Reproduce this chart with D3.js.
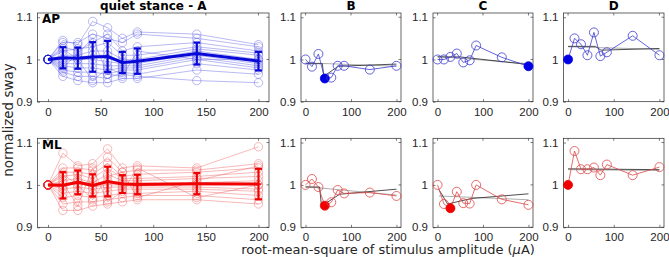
<!DOCTYPE html>
<html>
<head>
<meta charset="utf-8">
<script src="https://cdn.jsdelivr.net/npm/d3@7"></script>
<style>
  body { margin: 0; background: #fff; }
  svg { font-family: "DejaVu Sans", sans-serif; }
  .tick text { fill: #262626; font-size: 11.5px; }
  .ttl { font-weight: bold; font-size: 12px; fill: #000; }
  .lbl { font-size: 13px; fill: #262626; }
</style>
</head>
<body>
<svg id="chart" width="669" height="257"></svg>
<script>
// stimulus amplitudes (rms, uA)
var amps = [0, 14.1, 28.3, 42.4, 56.6, 70.7, 84.9, 141.4, 200];

// panel A, individual subjects (AP)
var apSubjects = [
  [1, 1.045, 1.035, 1.090, 1.075, 1.050, 1.065, 1.060, 1.035],
  [1, 1.040, 1.040, 1.060, 1.050, 1.040, 1.060, 1.050, 1.030],
  [1, 1.030, 1.020, 1.040, 1.060, 1.020, 1.030, 1.040, 1.020],
  [1, 1.020, 1.025, 1.030, 1.040, 1.010, 1.010, 1.030, 1.015],
  [1, 1.010, 1.010, 1.020, 1.020, 1.000, 1.000, 1.025, 1.010],
  [1, 1.000, 1.005, 1.010, 1.010, 0.995, 0.995, 1.020, 1.000],
  [1, 0.995, 1.000, 1.000, 0.995, 0.990, 0.990, 1.015, 0.995],
  [1, 0.990, 0.990, 0.990, 0.985, 0.985, 0.985, 1.010, 0.990],
  [1, 0.985, 0.980, 0.980, 0.975, 0.980, 0.980, 1.005, 0.985],
  [1, 0.975, 0.970, 0.970, 0.965, 0.975, 0.975, 1.000, 0.980],
  [1, 0.970, 0.960, 0.960, 0.955, 0.970, 0.965, 0.990, 0.975],
  [1, 0.960, 0.950, 0.945, 0.945, 0.955, 0.955, 0.975, 0.965],
  [1, 1.025, 1.000, 0.950, 0.980, 0.965, 0.960, 0.950, 0.945],
  [1, 0.980, 1.015, 1.050, 0.965, 0.960, 1.020, 1.000, 1.000]
];
var apMean = [1, 1.004, 1.003, 1.006, 1.007, 0.993, 0.996, 1.014, 0.996];
var apSd   = [0, 0.025, 0.025, 0.035, 0.037, 0.025, 0.030, 0.026, 0.022];

// panel A, individual subjects (ML)
var mlSubjects = [
  [1, 1.075, 1.045, 1.050, 1.085, 1.040, 1.045, 1.040, 1.090],
  [1, 1.040, 1.040, 1.035, 1.065, 1.030, 1.035, 1.035, 1.050],
  [1, 1.030, 1.030, 1.025, 1.050, 1.020, 1.025, 1.030, 1.040],
  [1, 1.020, 1.025, 1.015, 1.040, 1.015, 1.015, 1.020, 1.030],
  [1, 1.010, 1.015, 1.005, 1.025, 1.010, 1.010, 1.015, 1.020],
  [1, 1.000, 1.010, 1.000, 1.010, 1.005, 1.005, 1.005, 1.010],
  [1, 0.995, 1.005, 0.995, 1.000, 1.000, 1.000, 1.000, 1.000],
  [1, 0.990, 0.995, 0.990, 0.995, 0.995, 0.995, 0.995, 0.990],
  [1, 0.980, 0.985, 0.980, 0.985, 0.990, 0.990, 0.990, 0.985],
  [1, 0.970, 0.975, 0.970, 0.975, 0.980, 0.980, 0.985, 0.975],
  [1, 0.955, 0.960, 0.960, 0.965, 0.970, 0.975, 0.975, 0.965],
  [1, 0.940, 0.940, 0.950, 0.955, 0.960, 0.965, 0.965, 0.955],
  [1, 1.005, 0.950, 1.040, 0.960, 0.985, 1.040, 0.970, 1.000],
  [1, 1.025, 1.000, 0.965, 1.020, 1.030, 0.970, 1.010, 1.045]
];
var mlMean = [1, 0.999, 1.006, 0.999, 1.008, 1.002, 1.001, 1.003, 1.002];
var mlSd   = [0, 0.031, 0.028, 0.026, 0.035, 0.021, 0.023, 0.025, 0.036];

// example subjects B, C, D
var apB = [1.000, 0.983, 1.013, 0.955, 0.957, 0.985, 0.985, 0.976, 0.985];
var apC = [1.000, 1.000, 1.006, 1.014, 0.993, 0.998, 1.033, 1.005, 0.984];
var apD = [1.000, 1.050, 1.036, 1.010, 1.064, 1.008, 1.017, 1.056, 1.010];
var mlB = [1.000, 1.014, 0.995, 0.951, 0.959, 0.988, 0.980, 0.982, 0.974];
var mlC = [1.000, 0.955, 0.945, 0.984, 0.957, 0.956, 1.000, 0.966, 0.953];
var mlD = [1.000, 1.080, 1.037, 1.037, 1.041, 1.023, 1.048, 1.023, 1.042];
var bestB = 3, bestC = 8, bestD = 0;
var bestMlB = 3, bestMlC = 2, bestMlD = 0;

// fitted curves (black) and linear fits (gray): [amplitude, sway]
var fitApB = [[0, 0.990], [37, 0.990], [40, 0.960], [72, 0.984], [200, 0.989]];
var linApB = [[0, 0.992], [200, 0.984]];
var fitApC = [[0, 1.006], [50, 1.006], [200, 0.988]];
var linApC = [[0, 1.007], [200, 0.990]];
var fitApD = [[0, 1.031], [60, 1.031], [72, 1.022], [200, 1.026]];
var linApD = [[0, 1.030], [200, 1.024]];
var fitMlB = [[0, 0.995], [31, 0.995], [35, 0.950], [75, 0.978], [200, 0.990]];
var linMlB = [[0, 0.996], [200, 0.976]];
var fitMlC = [[3, 0.989], [22, 0.955], [75, 0.968], [200, 0.979]];
var linMlC = [[3, 0.974], [200, 0.965]];
var fitMlD = [[0, 1.038], [200, 1.036]];
var linMlD = [[0, 1.036], [200, 1.034]];

var yTicks = [0.9, 1, 1.1];
var aTicks = [0, 50, 100, 150, 200];
var exTicks = [0, 100, 200];
var titles = ["quiet stance - A", "B", "C", "D"];

var svg = d3.select("#chart");

var cols = [
  {left: 37.5, right: 269},
  {left: 301, right: 401},
  {left: 433, right: 533},
  {left: 563.5, right: 664}
];
var rows = [
  {top: 13, bottom: 101.7},
  {top: 138.3, bottom: 227.3}
];

var blue = {light: "rgba(95,95,230,0.55)", main: "#0a0ad8", ex: "#3c3cd0", fill: "#0000e6"};
var red  = {light: "rgba(240,95,95,0.55)", main: "#f00000", ex: "#e04848", fill: "#f00000"};

function makeAxes(c, r, ticks) {
  var x = d3.scaleLinear().domain([-10, 210]).range([c.left, c.right]);
  var y = d3.scaleLinear().domain([0.9, 1.11]).range([r.bottom, r.top]);
  var g = svg.append("g");
  var tl = 2.5;
  g.append("g")
    .attr("transform", `translate(0,${r.bottom})`)
    .call(d3.axisBottom(x).tickValues(ticks).tickSize(-tl).tickPadding(6).tickFormat(d3.format("d")))
    .call(s => s.select(".domain").remove());
  g.append("g")
    .attr("transform", `translate(${c.left},0)`)
    .call(d3.axisLeft(y).tickValues(yTicks).tickSize(-tl).tickPadding(5).tickFormat(d => d == 1 ? "1" : d3.format(".1f")(d)))
    .call(s => s.select(".domain").remove());
  // top and right ticks (box style)
  g.selectAll(".tt").data(ticks).enter().append("line")
    .attr("x1", d => x(d)).attr("x2", d => x(d))
    .attr("y1", r.top).attr("y2", r.top + tl)
    .attr("stroke", "#262626").attr("stroke-width", 0.6);
  g.selectAll(".rt").data(yTicks).enter().append("line")
    .attr("x1", c.right).attr("x2", c.right - tl)
    .attr("y1", d => y(d)).attr("y2", d => y(d))
    .attr("stroke", "#262626").attr("stroke-width", 0.6);
  g.selectAll(".tick line").attr("stroke", "#262626").attr("stroke-width", 0.6);
  g.append("rect")
    .attr("x", c.left).attr("y", r.top)
    .attr("width", c.right - c.left).attr("height", r.bottom - r.top)
    .attr("fill", "none").attr("stroke", "#262626").attr("stroke-width", 0.7);
  return {x: x, y: y, g: svg.append("g")};
}

function drawGroup(ax, subjects, mean, sd, col) {
  var line = d3.line().x((d, i) => ax.x(amps[i])).y(d => ax.y(d));
  subjects.forEach(function(s) {
    ax.g.append("path").attr("d", line(s))
      .attr("fill", "none").attr("stroke", col.light).attr("stroke-width", 0.8);
    ax.g.selectAll(null).data(s).enter().append("circle")
      .attr("cx", (d, i) => ax.x(amps[i])).attr("cy", d => ax.y(d)).attr("r", 4.2)
      .attr("fill", "none").attr("stroke", col.light).attr("stroke-width", 0.8);
  });
  ax.g.append("path").attr("d", line(mean))
    .attr("fill", "none").attr("stroke", col.main).attr("stroke-width", 3);
  mean.forEach(function(m, i) {
    if (sd[i] == 0) return;
    var cx = ax.x(amps[i]);
    ax.g.append("line").attr("x1", cx).attr("x2", cx)
      .attr("y1", ax.y(m - sd[i])).attr("y2", ax.y(m + sd[i]))
      .attr("stroke", col.main).attr("stroke-width", 2.2);
    [m - sd[i], m + sd[i]].forEach(function(v) {
      ax.g.append("line").attr("x1", cx - 3.5).attr("x2", cx + 3.5)
        .attr("y1", ax.y(v)).attr("y2", ax.y(v))
        .attr("stroke", col.main).attr("stroke-width", 2.2);
    });
    ax.g.append("line").attr("x1", cx - 3).attr("x2", cx + 3)
      .attr("y1", ax.y(m)).attr("y2", ax.y(m))
      .attr("stroke", col.main).attr("stroke-width", 1.5);
  });
  ax.g.append("circle").attr("cx", ax.x(0)).attr("cy", ax.y(1)).attr("r", 4.2)
    .attr("fill", "none").attr("stroke", col.main).attr("stroke-width", 1);
}

function drawExample(ax, vals, best, fit, lin, col) {
  var line = d3.line().x(d => ax.x(d[0])).y(d => ax.y(d[1]));
  ax.g.append("path").attr("d", line(lin))
    .attr("fill", "none").attr("stroke", "#9a9a9a").attr("stroke-width", 0.8);
  ax.g.append("path").attr("d", line(fit))
    .attr("fill", "none").attr("stroke", "#222").attr("stroke-width", 0.8);
  var pl = d3.line().x((d, i) => ax.x(amps[i])).y(d => ax.y(d));
  ax.g.append("path").attr("d", pl(vals))
    .attr("fill", "none").attr("stroke", col.ex).attr("stroke-width", 0.8);
  ax.g.selectAll(null).data(vals).enter().append("circle")
    .attr("cx", (d, i) => ax.x(amps[i])).attr("cy", d => ax.y(d)).attr("r", 4.5)
    .attr("fill", (d, i) => i == best ? col.fill : "none")
    .attr("stroke", (d, i) => i == best ? col.fill : col.ex).attr("stroke-width", 0.8);
}

var axAP = makeAxes(cols[0], rows[0], aTicks);
drawGroup(axAP, apSubjects, apMean, apSd, blue);
var axML = makeAxes(cols[0], rows[1], aTicks);
drawGroup(axML, mlSubjects, mlMean, mlSd, red);

drawExample(makeAxes(cols[1], rows[0], exTicks), apB, bestB, fitApB, linApB, blue);
drawExample(makeAxes(cols[2], rows[0], exTicks), apC, bestC, fitApC, linApC, blue);
drawExample(makeAxes(cols[3], rows[0], exTicks), apD, bestD, fitApD, linApD, blue);
drawExample(makeAxes(cols[1], rows[1], exTicks), mlB, bestMlB, fitMlB, linMlB, red);
drawExample(makeAxes(cols[2], rows[1], exTicks), mlC, bestMlC, fitMlC, linMlC, red);
drawExample(makeAxes(cols[3], rows[1], exTicks), mlD, bestMlD, fitMlD, linMlD, red);

titles.forEach(function(t, i) {
  svg.append("text").attr("class", "ttl")
    .attr("x", (cols[i].left + cols[i].right) / 2).attr("y", 10)
    .attr("text-anchor", "middle").text(t);
});
svg.append("text").attr("class", "ttl").attr("x", 42).attr("y", 23).text("AP");
svg.append("text").attr("class", "ttl").attr("x", 42).attr("y", 149).text("ML");

svg.append("text").attr("class", "lbl").style("font-size", "13.5px")
  .attr("transform", "translate(13,120) rotate(-90)")
  .attr("text-anchor", "middle").text("normalized sway");
var xl = svg.append("text").attr("class", "lbl")
  .attr("x", 388).attr("y", 254).attr("text-anchor", "middle");
xl.append("tspan").text("root-mean-square of stimulus amplitude (");
xl.append("tspan").attr("font-style", "italic").text("\u03bc");
xl.append("tspan").text("A)");
</script>
</body>
</html>
